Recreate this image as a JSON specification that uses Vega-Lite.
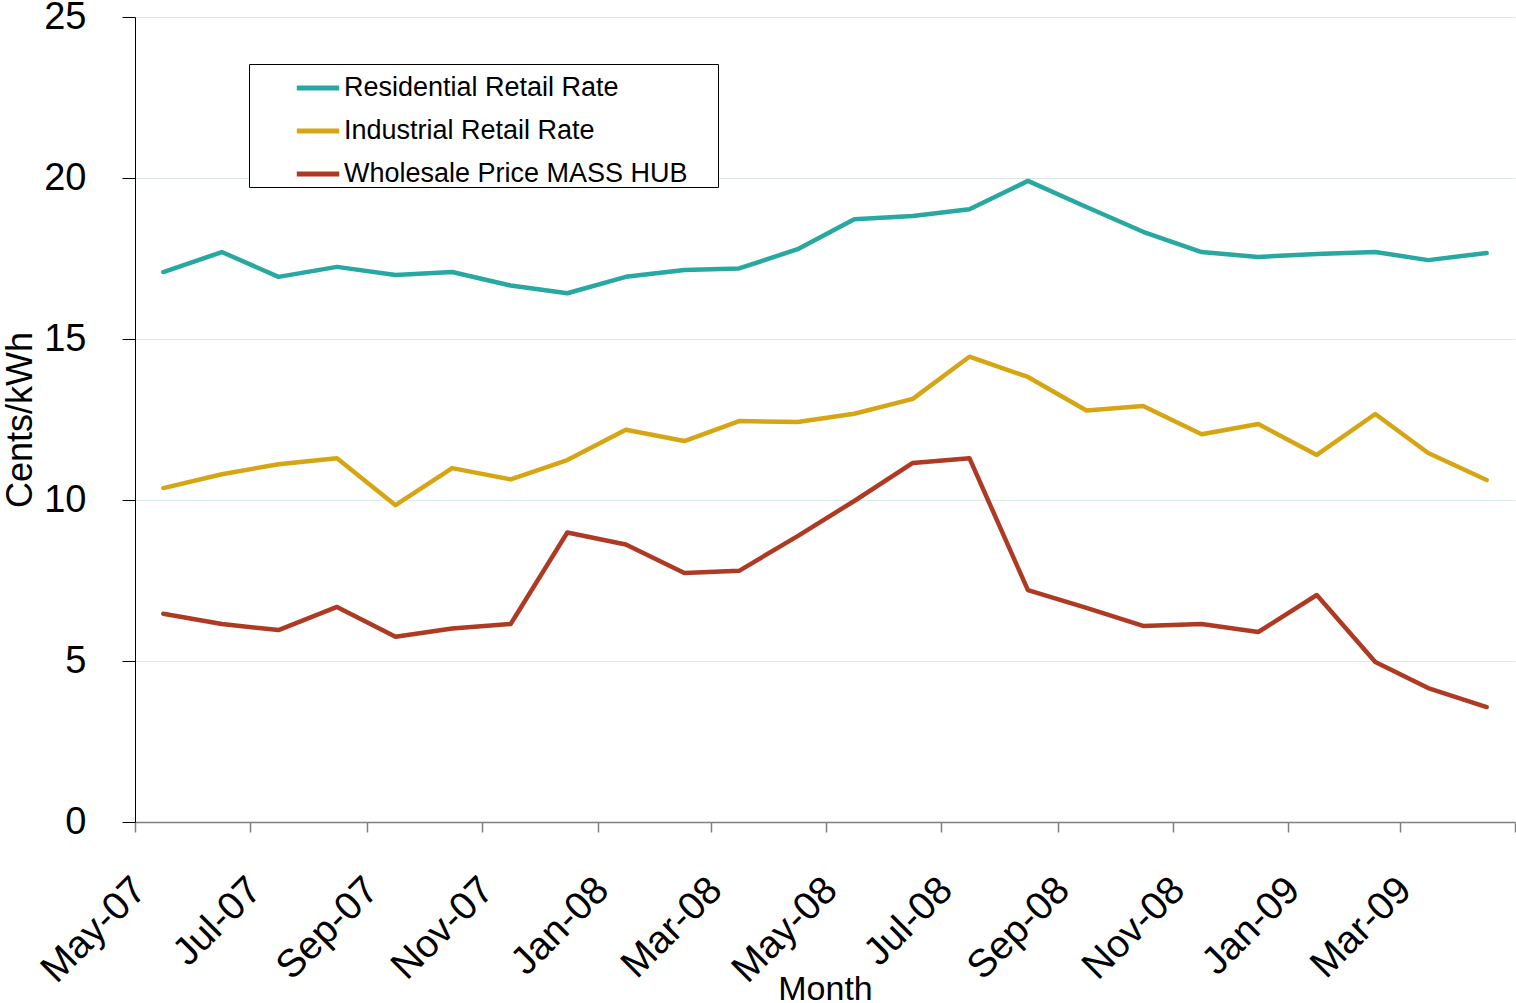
{
  "$schema": "https://vega.github.io/schema/vega-lite/v6.json",
  "width": 1380,
  "height": 805,
  "autosize": {"type": "none"},
  "padding": {"left": 135, "top": 17, "right": 1, "bottom": 181},
  "background": "#ffffff",
  "config": {
    "font": "Liberation Sans",
    "view": {"stroke": null}
  },
  "data": {
    "values": [
      {"month": "2007-05-16", "Residential Retail Rate": 17.08, "Industrial Retail Rate": 10.37, "Wholesale Price MASS HUB": 6.47},
      {"month": "2007-06-16", "Residential Retail Rate": 17.70, "Industrial Retail Rate": 10.80, "Wholesale Price MASS HUB": 6.15},
      {"month": "2007-07-16", "Residential Retail Rate": 16.93, "Industrial Retail Rate": 11.11, "Wholesale Price MASS HUB": 5.96},
      {"month": "2007-08-16", "Residential Retail Rate": 17.24, "Industrial Retail Rate": 11.30, "Wholesale Price MASS HUB": 6.68},
      {"month": "2007-09-16", "Residential Retail Rate": 16.99, "Industrial Retail Rate": 9.84, "Wholesale Price MASS HUB": 5.75},
      {"month": "2007-10-16", "Residential Retail Rate": 17.08, "Industrial Retail Rate": 10.99, "Wholesale Price MASS HUB": 6.01},
      {"month": "2007-11-16", "Residential Retail Rate": 16.66, "Industrial Retail Rate": 10.64, "Wholesale Price MASS HUB": 6.15},
      {"month": "2007-12-16", "Residential Retail Rate": 16.42, "Industrial Retail Rate": 11.24, "Wholesale Price MASS HUB": 8.99},
      {"month": "2008-01-16", "Residential Retail Rate": 16.93, "Industrial Retail Rate": 12.18, "Wholesale Price MASS HUB": 8.62},
      {"month": "2008-02-16", "Residential Retail Rate": 17.14, "Industrial Retail Rate": 11.83, "Wholesale Price MASS HUB": 7.73},
      {"month": "2008-03-16", "Residential Retail Rate": 17.19, "Industrial Retail Rate": 12.45, "Wholesale Price MASS HUB": 7.80},
      {"month": "2008-04-16", "Residential Retail Rate": 17.79, "Industrial Retail Rate": 12.42, "Wholesale Price MASS HUB": 8.88},
      {"month": "2008-05-16", "Residential Retail Rate": 18.72, "Industrial Retail Rate": 12.68, "Wholesale Price MASS HUB": 9.97},
      {"month": "2008-06-16", "Residential Retail Rate": 18.82, "Industrial Retail Rate": 13.14, "Wholesale Price MASS HUB": 11.15},
      {"month": "2008-07-16", "Residential Retail Rate": 19.03, "Industrial Retail Rate": 14.45, "Wholesale Price MASS HUB": 11.30},
      {"month": "2008-08-16", "Residential Retail Rate": 19.91, "Industrial Retail Rate": 13.82, "Wholesale Price MASS HUB": 7.20},
      {"month": "2008-09-16", "Residential Retail Rate": 19.10, "Industrial Retail Rate": 12.78, "Wholesale Price MASS HUB": 6.65},
      {"month": "2008-10-16", "Residential Retail Rate": 18.33, "Industrial Retail Rate": 12.92, "Wholesale Price MASS HUB": 6.09},
      {"month": "2008-11-16", "Residential Retail Rate": 17.70, "Industrial Retail Rate": 12.04, "Wholesale Price MASS HUB": 6.15},
      {"month": "2008-12-16", "Residential Retail Rate": 17.55, "Industrial Retail Rate": 12.36, "Wholesale Price MASS HUB": 5.90},
      {"month": "2009-01-16", "Residential Retail Rate": 17.64, "Industrial Retail Rate": 11.40, "Wholesale Price MASS HUB": 7.05},
      {"month": "2009-02-16", "Residential Retail Rate": 17.70, "Industrial Retail Rate": 12.67, "Wholesale Price MASS HUB": 4.97},
      {"month": "2009-03-16", "Residential Retail Rate": 17.45, "Industrial Retail Rate": 11.46, "Wholesale Price MASS HUB": 4.16},
      {"month": "2009-04-16", "Residential Retail Rate": 17.67, "Industrial Retail Rate": 10.62, "Wholesale Price MASS HUB": 3.57}
    ]
  },
  "transform": [
    {"fold": ["Residential Retail Rate", "Industrial Retail Rate", "Wholesale Price MASS HUB"], "as": ["series", "value"]}
  ],
  "mark": {"type": "line", "strokeWidth": 4.5, "strokeJoin": "round", "strokeCap": "round"},
  "encoding": {
    "x": {
      "field": "month",
      "type": "temporal",
      "scale": {
        "type": "utc",
        "domain": [
          {"year": 2007, "month": 5, "date": 1, "utc": true},
          {"year": 2009, "month": 5, "date": 1, "utc": true}
        ]
      },
      "axis": {
        "title": "Month",
        "values": [
          {"year": 2007, "month": 5, "date": 1, "utc": true},
          {"year": 2007, "month": 7, "date": 1, "utc": true},
          {"year": 2007, "month": 9, "date": 1, "utc": true},
          {"year": 2007, "month": 11, "date": 1, "utc": true},
          {"year": 2008, "month": 1, "date": 1, "utc": true},
          {"year": 2008, "month": 3, "date": 1, "utc": true},
          {"year": 2008, "month": 5, "date": 1, "utc": true},
          {"year": 2008, "month": 7, "date": 1, "utc": true},
          {"year": 2008, "month": 9, "date": 1, "utc": true},
          {"year": 2008, "month": 11, "date": 1, "utc": true},
          {"year": 2009, "month": 1, "date": 1, "utc": true},
          {"year": 2009, "month": 3, "date": 1, "utc": true},
          {"year": 2009, "month": 5, "date": 1, "utc": true}
        ],
        "labelExpr": "utcFormat(datum.value, '%b-%y') == 'May-09' ? '' : utcFormat(datum.value, '%b-%y')",
        "labelAngle": -45,
        "labelAlign": "right",
        "labelBaseline": "top",
        "labelPadding": 38,
        "labelOffset": -9,
        "labelFontSize": 39,
        "labelColor": "#000000",
        "labelOverlap": false,
        "labelFlush": false,
        "labelBound": false,
        "grid": false,
        "domainColor": "#808080",
        "domainWidth": 1.5,
        "tickColor": "#808080",
        "tickSize": 10,
        "tickWidth": 1.5,
        "titleFontSize": 34,
        "titleFontWeight": "normal",
        "titleColor": "#000000",
        "titleBaseline": "alphabetic",
        "titleY": 177
      }
    },
    "y": {
      "field": "value",
      "type": "quantitative",
      "scale": {"domain": [0, 25], "nice": false},
      "axis": {
        "title": "Cents/kWh",
        "values": [0, 5, 10, 15, 20, 25],
        "labelFontSize": 38,
        "labelColor": "#000000",
        "labelPadding": 36,
        "tickSize": 13,
        "tickColor": "#000000",
        "domainColor": "#000000",
        "gridColor": "#D9E8E8",
        "gridWidth": 1,
        "titleFontSize": 36,
        "titleFontWeight": "normal",
        "titleColor": "#000000",
        "titleBaseline": "top",
        "titleX": -132
      }
    },
    "color": {
      "field": "series",
      "type": "nominal",
      "sort": ["Residential Retail Rate", "Industrial Retail Rate", "Wholesale Price MASS HUB"],
      "scale": {
        "domain": ["Residential Retail Rate", "Industrial Retail Rate", "Wholesale Price MASS HUB"],
        "range": ["#27A8A0", "#D6A514", "#AE3A23"]
      },
      "legend": {
        "orient": "none",
        "legendX": 114,
        "legendY": 47,
        "title": " ",
        "titleOrient": "right",
        "titlePadding": 30,
        "titleFontSize": 27,
        "strokeColor": "#000000",
        "fillColor": "#ffffff",
        "padding": 0,
        "symbolType": "stroke",
        "symbolStrokeWidth": 5,
        "symbolSize": 1800,
        "symbolOffset": 45,
        "labelFontSize": 27,
        "labelOffset": 2,
        "labelColor": "#000000",
        "labelLimit": 0,
        "rowPadding": 6
      }
    }
  }
}
